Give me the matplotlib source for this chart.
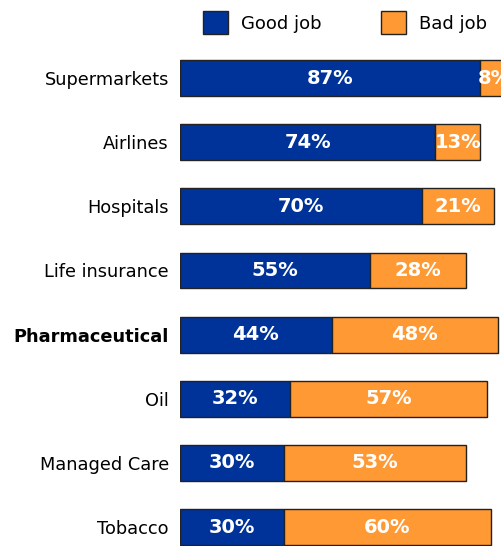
import matplotlib
matplotlib.use("Agg")
import matplotlib.pyplot as plt
from matplotlib.patches import Patch

categories = ["Supermarkets", "Airlines", "Hospitals", "Life insurance",
              "Pharmaceutical", "Oil", "Managed Care", "Tobacco"]
good_job = [87, 74, 70, 55, 44, 32, 30, 30]
bad_job = [8, 13, 21, 28, 48, 57, 53, 60]

blue = "#003399"
orange = "#FF9933"

plt.rcParams["font.family"] = "DejaVu Sans"

fig = plt.figure(figsize=(5.01, 5.46), dpi=100)
ax = fig.add_axes([180 / 501, 0, 321 / 501, 500 / 546])

ypos = list(range(len(categories)))
h = 0.56
ax.barh(ypos, good_job, height=h, color=blue, edgecolor="#222222", linewidth=1)
ax.barh(ypos, bad_job, left=good_job, height=h, color=orange, edgecolor="#222222", linewidth=1)

for y, g, b in zip(ypos, good_job, bad_job):
    ax.text(g / 2, y, f"{g}%", ha="center", va="center", color="white",
            fontsize=14, fontweight="bold")
    ax.text(g + b / 2, y, f"{b}%", ha="center", va="center", color="white",
            fontsize=14, fontweight="bold")

ax.set_xlim(0, 93)
ax.set_ylim(7.296, -0.5)
ax.set_yticks(ypos)
ax.set_yticklabels(categories, fontsize=12.8)
ax.get_yticklabels()[4].set_fontweight("bold")
ax.tick_params(axis="y", length=0, pad=8)
ax.set_xticks([])
for s in ax.spines.values():
    s.set_visible(False)

handles = [Patch(facecolor=blue, edgecolor="#222222", label="Good job"),
           Patch(facecolor=orange, edgecolor="#222222", label="Bad job")]
fig.legend(handles=handles, loc="upper left", bbox_to_anchor=(190 / 501, 1.003),
           ncol=2, frameon=False, fontsize=13, handlelength=1.4, handleheight=1.6,
           columnspacing=3.3, handletextpad=0.7, borderaxespad=0.3)

fig.savefig("out.png", dpi=100)
